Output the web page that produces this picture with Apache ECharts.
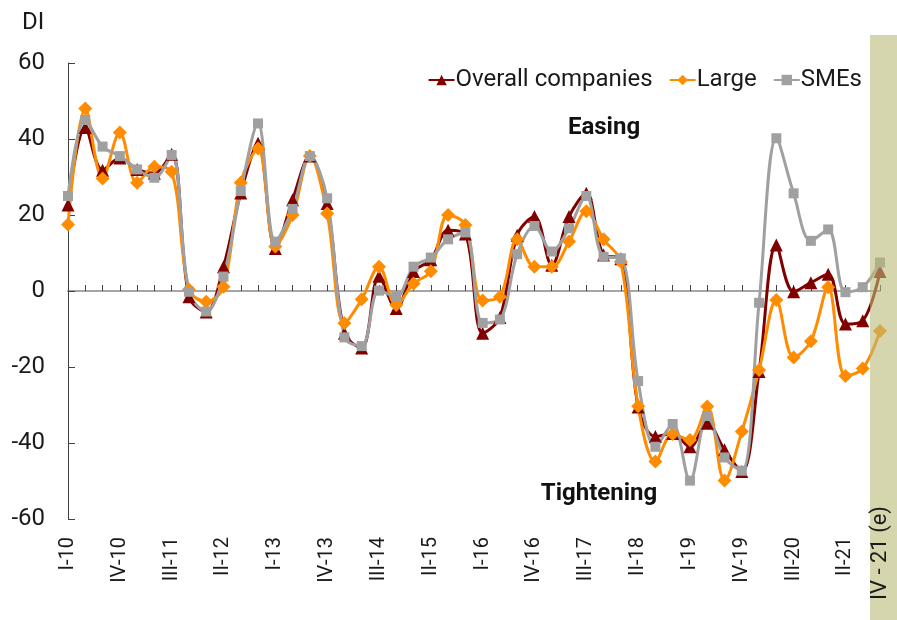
<!DOCTYPE html>
<html>
  <head>
    <meta charset="utf-8" />
    <title>DI chart</title>
    <script src="https://cdn.jsdelivr.net/npm/echarts@6.0.0/dist/echarts.min.js"></script>
  </head>
  <body style="margin:0">
    <div id="main" style="width: 897px;height:620px;"></div>
    <script type="text/javascript">
      var quarters = [
        'I-10', 'II-10', 'III-10', 'IV-10', 'I-11', 'II-11', 'III-11', 'IV-11',
        'I-12', 'II-12', 'III-12', 'IV-12', 'I-13', 'II-13', 'III-13', 'IV-13',
        'I-14', 'II-14', 'III-14', 'IV-14', 'I-15', 'II-15', 'III-15', 'IV-15',
        'I-16', 'II-16', 'III-16', 'IV-16', 'I-17', 'II-17', 'III-17', 'IV-17',
        'I-18', 'II-18', 'III-18', 'IV-18', 'I-19', 'II-19', 'III-19', 'IV-19',
        'I-20', 'II-20', 'III-20', 'IV-20', 'I-21', 'II-21', 'III-21', 'IV - 21 (e)'
      ];
      var overall = [22.6, 43, 31.8, 35, 32, 31, 36, -1.5, -5.5, 6.4, 25.8, 38.9,
        11.2, 24, 35.5, 23, -11.1, -15, 3.9, -4.6, 5.1, 8.2, 16, 15,
        -11.1, -7, 14.7, 19.6, 6.8, 19.6, 25.7, 9.5, 8.5, -30.5, -38.3, -37.5,
        -41, -34.8, -41.8, -47.5, -21.2, 12.1, -0.2, 2.2, 4.4, -8.7, -7.8, 5.1];
      var large = [17.5, 48, 29.6, 41.7, 28.5, 32.7, 31.4, 0.4, -2.8, 1.1, 28.5, 37.5,
        11.7, 20, 35.5, 20.4, -8.5, -2.2, 6.4, -3.7, 2, 5.2, 20, 17.4,
        -2.5, -1.5, 13.6, 6.4, 6.4, 13, 21, 13.6, 7.7, -30.3, -44.9, -37.6,
        -39.2, -30.4, -49.9, -37, -20.8, -2.4, -17.5, -13.2, 1, -22.4, -20.4, -10.5];
      var smes = [25, 45, 38, 35.5, 32, 29.8, 35.8, -0.2, -5.4, 3.8, 26.3, 44.1,
        13, 21.6, 35.5, 24.4, -12.2, -14.5, 0.1, -1.5, 6.4, 8.8, 13.6, 15.4,
        -8.4, -7.5, 9.7, 17.1, 10.4, 16.5, 25, 9, 8.6, -23.7, -41, -35,
        -49.9, -32.9, -43.8, -47.3, -3.1, 40.2, 25.7, 13.2, 16.2, -0.3, 1, 7.5];
      var yTicks = [-60, -40, -20, 0, 20, 40, 60];

      var chartDom = document.getElementById('main');
      var myChart = echarts.init(chartDom);
      var font = 'Roboto';
      var last = quarters.length - 1;

      function lineSeries(name, data, color, symbol, size) {
        return {
          name: name,
          type: 'line',
          data: data,
          smooth: 0.35,
          symbol: symbol,
          symbolSize: size,
          showAllSymbol: true,
          lineStyle: { color: color, width: 3 },
          itemStyle: { color: color },
          emphasis: { disabled: true }
        };
      }

      var option = {
        animation: false,
        textStyle: { fontFamily: font },
        grid: { left: 68, right: 17, top: 63, bottom: 101 },
        legend: {
          top: 63,
          right: 30,
          itemGap: 16,
          itemWidth: 26,
          itemHeight: 13,
          textStyle: { fontFamily: font, fontSize: 24, color: '#1a1a1a', padding: [0, 0, 0, -4] },
          data: ['Overall companies', 'Large', 'SMEs']
        },
        xAxis: [
          {
            type: 'category',
            position: 'bottom',
            data: quarters,
            boundaryGap: false,
            axisLine: { show: false, onZero: false },
            axisTick: { show: false },
            axisLabel: {
              rotate: 90,
              margin: 18,
              fontSize: 20,
              fontFamily: font,
              color: '#1a1a1a',
              interval: function (i) { return i % 3 === 0 && i !== last; }
            }
          },
          {
            type: 'category',
            position: 'bottom',
            data: quarters,
            boundaryGap: false,
            axisLine: { onZero: true, lineStyle: { color: '#a6a6a6', width: 2 } },
            axisTick: { show: true, inside: true, length: 6, interval: 0, lineStyle: { color: '#404040' } },
            axisLabel: { show: false }
          },
          {
            type: 'category',
            position: 'bottom',
            data: quarters,
            boundaryGap: false,
            z: 10,
            axisLine: { show: false, onZero: false },
            axisTick: { show: false },
            axisLabel: {
              rotate: 90,
              margin: -13,
              fontSize: 22,
              fontFamily: font,
              color: '#1a1a1a',
              interval: function (i) { return i === last; }
            }
          }
        ],
        yAxis: {
          type: 'value',
          min: -60,
          max: 60,
          interval: 20,
          axisLine: { show: true, lineStyle: { color: '#404040' } },
          axisTick: { show: true, inside: true, length: 7, lineStyle: { color: '#404040' } },
          splitLine: { show: false },
          axisLabel: {
            margin: 23,
            fontSize: 24,
            fontFamily: font,
            color: '#1a1a1a',
            customValues: yTicks
          }
        },
        series: [
          lineSeries('Overall companies', overall, '#800000', 'triangle', 13),
          lineSeries('Large', large, '#ff8c00', 'diamond', 14),
          lineSeries('SMEs', smes, '#a0a0a0', 'rect', 10)
        ]
      };

      myChart.setOption(option);

      // shaded estimate band + free text
      var xLast = myChart.convertToPixel({ xAxisIndex: 0 }, last);
      myChart.setOption({
        graphic: [
          {
            type: 'rect',
            z: 5,
            silent: true,
            shape: { x: xLast - 10, y: 35, width: 897 - (xLast - 10), height: 620 - 35 },
            style: { fill: 'rgba(186,186,120,0.6)' }
          },
          {
            type: 'text',
            left: 22,
            top: 11,
            style: { text: 'DI', font: '24px ' + font, fill: '#1a1a1a' }
          },
          {
            type: 'text',
            x: 604,
            y: 128,
            style: { text: 'Easing', font: 'bold 24px ' + font, fill: '#111', align: 'center', verticalAlign: 'middle' }
          },
          {
            type: 'text',
            x: 599,
            y: 494,
            style: { text: 'Tightening', font: 'bold 24px ' + font, fill: '#111', align: 'center', verticalAlign: 'middle' }
          }
        ]
      });
    </script>
  </body>
</html>
